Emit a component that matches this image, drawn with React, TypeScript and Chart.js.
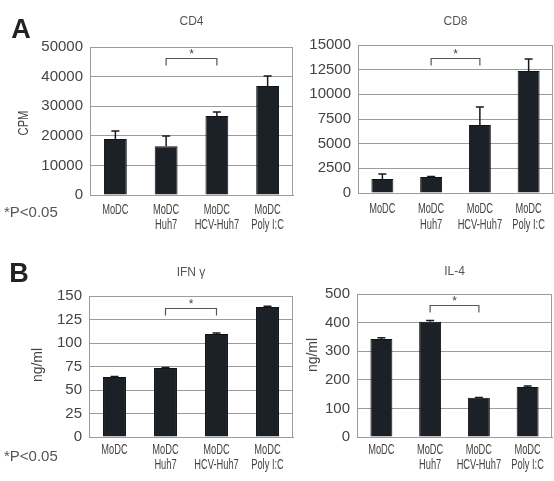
import React, { useEffect, useRef } from 'react';
import { Chart, registerables } from 'chart.js';

Chart.register(...registerables);

// ---------- data ----------
const categoryLabels: string[][] = [
  ['MoDC'],
  ['MoDC', 'Huh7'],
  ['MoDC', 'HCV-Huh7'],
  ['MoDC', 'Poly I:C'],
];

const cd4Values = [18900, 16500, 26700, 36800];
const cd4Errors = [2700, 3400, 1300, 3400];
const cd4Ticks = { max: 50000, step: 10000 };
const cd4Bracket = 46300;

const cd8Values = [1420, 1620, 6900, 12370];
const cd8Errors = [510, 60, 1820, 1210];
const cd8Ticks = { max: 15000, step: 2500 };
const cd8Bracket = 13700;

const ifnValues = [63.8, 73.4, 109.6, 138.3];
const ifnErrors = [0.6, 0.6, 1.0, 0.8];
const ifnTicks = { max: 150, step: 25 };
const ifnBracket = 137.2;

const il4Values = [343, 403, 137, 175];
const il4Errors = [4, 4, 1, 3];
const il4Ticks = { max: 500, step: 100 };
const il4Bracket = 461;

// ---------- styles ----------
const BAR_COLOR = '#1b2126';
const GRID_COLOR = '#9c9c9c';
const TEXT_COLOR = '#444444';
const FONT = '"Liberation Sans", Arial, sans-serif';

type Panel = {
  left: number;
  top: number;
  width: number;
  height: number;
  padTop: number;
  padRight: number;
  yWidth: number;
  xHeight: number;
  title: string;
  titleY: number;
  values: number[];
  errors: number[];
  ticks: { max: number; step: number };
  bracket: number;
  yTitle?: { text: string; x: number; y: number; sx: number };
  letter?: { text: string; x: number; y: number };
  pnote?: { x: number; y: number };
  labelY1: number;
  labelY2: number;
};

function drawScaled(ctx: CanvasRenderingContext2D, text: string, x: number, y: number, sx: number) {
  ctx.save();
  ctx.translate(x, y);
  ctx.scale(sx, 1);
  ctx.fillText(text, 0, 0);
  ctx.restore();
}

function PanelChart({ p }: { p: Panel }) {
  const ref = useRef<HTMLCanvasElement | null>(null);
  useEffect(() => {
    if (!ref.current) return;
    const decor = {
      id: 'decor',
      afterDatasetsDraw(chart: any) {
        const ctx: CanvasRenderingContext2D = chart.ctx;
        const xs = chart.scales.x;
        const ys = chart.scales.y;
        const area = chart.chartArea;
        ctx.save();
        // right border of the plot box
        ctx.strokeStyle = GRID_COLOR;
        ctx.lineWidth = 1;
        ctx.beginPath();
        ctx.moveTo(Math.round(area.right) - 0.5, area.top);
        ctx.lineTo(Math.round(area.right) - 0.5, area.bottom);
        ctx.stroke();
        // error bars (upper only)
        ctx.strokeStyle = '#1a1a1a';
        ctx.lineWidth = 1.5;
        p.values.forEach((v, i) => {
          const x = xs.getPixelForValue(i);
          const y0 = ys.getPixelForValue(v);
          const y1 = ys.getPixelForValue(v + p.errors[i]);
          ctx.beginPath();
          ctx.moveTo(x, y0);
          ctx.lineTo(x, y1);
          ctx.moveTo(x - 4, y1);
          ctx.lineTo(x + 4, y1);
          ctx.stroke();
        });
        // significance bracket between categories 1 and 2
        const bx1 = xs.getPixelForValue(1);
        const bx2 = xs.getPixelForValue(2);
        const by = Math.round(ys.getPixelForValue(p.bracket)) + 0.5;
        ctx.strokeStyle = '#555';
        ctx.lineWidth = 1.2;
        ctx.beginPath();
        ctx.moveTo(bx1, by + 7);
        ctx.lineTo(bx1, by);
        ctx.lineTo(bx2, by);
        ctx.lineTo(bx2, by + 7);
        ctx.stroke();
        ctx.fillStyle = '#444';
        ctx.font = `12px ${FONT}`;
        ctx.textAlign = 'center';
        ctx.textBaseline = 'middle';
        ctx.fillText('*', (bx1 + bx2) / 2, by - 4);
        // title
        ctx.fillStyle = '#555';
        ctx.font = `12px ${FONT}`;
        ctx.fillText(p.title, (area.left + area.right) / 2, p.titleY);
        // x category labels (condensed)
        ctx.fillStyle = TEXT_COLOR;
        ctx.font = `15px ${FONT}`;
        categoryLabels.forEach((lines, i) => {
          const x = xs.getPixelForValue(i);
          lines.forEach((t, j) => drawScaled(ctx, t, x, j === 0 ? p.labelY1 : p.labelY2, 0.62));
        });
        // y axis title
        if (p.yTitle) {
          ctx.save();
          ctx.translate(p.yTitle.x, p.yTitle.y);
          ctx.rotate(-Math.PI / 2);
          ctx.scale(p.yTitle.sx, 1);
          ctx.font = `14px ${FONT}`;
          ctx.fillStyle = TEXT_COLOR;
          ctx.fillText(p.yTitle.text, 0, 0);
          ctx.restore();
        }
        // panel letter
        if (p.letter) {
          ctx.fillStyle = '#222';
          ctx.font = `bold 27px ${FONT}`;
          ctx.textBaseline = 'alphabetic';
          ctx.fillText(p.letter.text, p.letter.x, p.letter.y);
        }
        // p-value note
        if (p.pnote) {
          ctx.fillStyle = '#555';
          ctx.font = `15px ${FONT}`;
          ctx.textAlign = 'left';
          ctx.textBaseline = 'middle';
          ctx.fillText('*P<0.05', p.pnote.x, p.pnote.y);
        }
        ctx.restore();
      },
    };

    const chart = new Chart(ref.current, {
      type: 'bar',
      data: {
        labels: categoryLabels.map((l) => l.join(' ')),
        datasets: [
          {
            data: p.values,
            backgroundColor: BAR_COLOR,
            borderColor: '#0f1316',
            borderWidth: 1,
            barPercentage: 0.45,
            categoryPercentage: 1,
          },
        ],
      },
      options: {
        responsive: false,
        maintainAspectRatio: false,
        animation: false,
        layout: { padding: { top: p.padTop, right: p.padRight, left: 0, bottom: 0 } },
        plugins: { legend: { display: false }, tooltip: { enabled: false }, title: { display: false } },
        scales: {
          x: {
            grid: { display: false, drawTicks: false },
            border: { display: true, color: GRID_COLOR, width: 1 },
            ticks: { display: false },
            afterFit: (s: any) => {
              s.height = p.xHeight;
            },
          },
          y: {
            min: 0,
            max: p.ticks.max,
            grid: { color: GRID_COLOR, lineWidth: 1, drawTicks: false },
            border: { display: true, color: GRID_COLOR, width: 1 },
            ticks: {
              stepSize: p.ticks.step,
              padding: 7,
              color: TEXT_COLOR,
              font: { family: FONT, size: 15 },
              callback: (v: any) => String(v),
            },
            afterFit: (s: any) => {
              s.width = p.yWidth;
            },
          },
        },
      },
      plugins: [decor],
    });
    return () => chart.destroy();
  }, [p]);

  return (
    <canvas
      ref={ref}
      width={p.width}
      height={p.height}
      style={{ position: 'absolute', left: p.left, top: p.top, width: p.width, height: p.height }}
    />
  );
}

const panels: Panel[] = [
  {
    left: 0, top: 0, width: 300, height: 240,
    padTop: 47, padRight: 7, yWidth: 90, xHeight: 45,
    title: 'CD4', titleY: 22,
    values: cd4Values, errors: cd4Errors, ticks: cd4Ticks, bracket: cd4Bracket,
    yTitle: { text: 'CPM', x: 24, y: 123, sx: 0.8 },
    letter: { text: 'A', x: 21, y: 38 },
    pnote: { x: 4, y: 213 },
    labelY1: 210, labelY2: 225,
  },
  {
    left: 300, top: 0, width: 254, height: 240,
    padTop: 45, padRight: 1, yWidth: 58, xHeight: 47,
    title: 'CD8', titleY: 22,
    values: cd8Values, errors: cd8Errors, ticks: cd8Ticks, bracket: cd8Bracket,
    labelY1: 209, labelY2: 225,
  },
  {
    left: 0, top: 240, width: 300, height: 241,
    padTop: 56, padRight: 7, yWidth: 89, xHeight: 44,
    title: 'IFN γ', titleY: 33,
    values: ifnValues, errors: ifnErrors, ticks: ifnTicks, bracket: ifnBracket,
    yTitle: { text: 'ng/ml', x: 38, y: 125, sx: 1 },
    letter: { text: 'B', x: 19, y: 42 },
    pnote: { x: 4, y: 217 },
    labelY1: 210, labelY2: 225,
  },
  {
    left: 300, top: 240, width: 254, height: 241,
    padTop: 54, padRight: 2, yWidth: 57, xHeight: 44,
    title: 'IL-4', titleY: 32,
    values: il4Values, errors: il4Errors, ticks: il4Ticks, bracket: il4Bracket,
    yTitle: { text: 'ng/ml', x: 13, y: 115, sx: 1 },
    labelY1: 210, labelY2: 225,
  },
];

export default function App() {
  return (
    <div style={{ position: 'absolute', left: 0, top: 0, width: 554, height: 481, background: '#ffffff', overflow: 'hidden' }}>
      {panels.map((p, i) => (
        <PanelChart key={i} p={p} />
      ))}
    </div>
  );
}
